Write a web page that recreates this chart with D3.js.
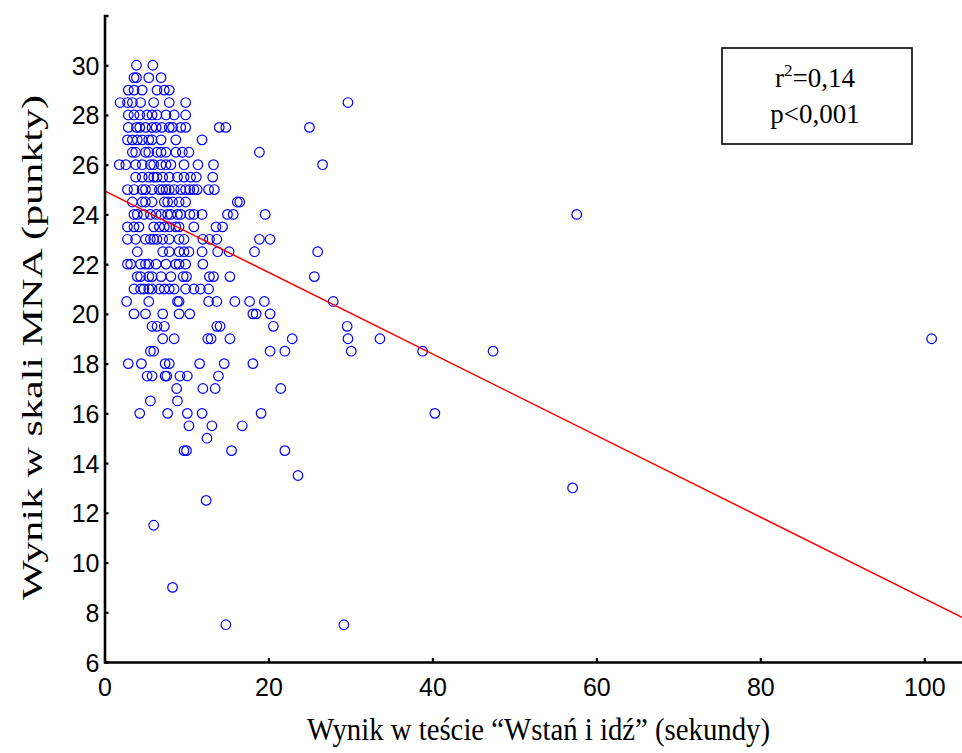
<!DOCTYPE html>
<html>
<head>
<meta charset="utf-8">
<script src="https://cdn.jsdelivr.net/npm/d3@7"></script>
<style>
  html, body { margin: 0; padding: 0; background: #fff; }
  svg { display: block; }
</style>
</head>
<body>
<svg id="chart" width="962" height="753"></svg>
<script>
// MNA score levels (points) and the "Wstań i idź" times (seconds) recorded at each level
const mnaScores = [30, 29.5, 29, 28.5, 28, 27.5, 27, 26.5, 26, 25.5, 25, 24.5, 24, 23.5, 23, 22.5, 22, 21.5, 21, 20.5, 20, 19.5, 19, 18.5, 18, 17.5, 17, 16.5, 16, 15.5, 15, 14.5, 13.5, 13, 12.5, 11.5, 9, 7.5];
const tugTimesByScore = [
  [3.9, 5.9],
  [3.6, 3.9, 5.4, 6.9],
  [2.9, 3.6, 4.6, 6.4, 7.3, 7.9],
  [1.9, 2.8, 3.4, 4.4, 6.0, 7.9, 9.9, 29.7],
  [2.9, 3.6, 4.3, 5.2, 5.8, 6.4, 7.5, 8.5, 9.9],
  [2.9, 3.9, 4.3, 5.0, 5.8, 6.3, 7.0, 7.9, 8.3, 9.3, 9.9, 14.0, 14.8, 25.0],
  [2.8, 3.4, 4.0, 4.6, 5.4, 5.8, 6.9, 8.7, 11.9],
  [3.4, 3.8, 5.0, 5.4, 6.4, 6.9, 7.5, 8.7, 9.5, 10.3, 18.9],
  [1.8, 2.6, 3.8, 4.6, 5.6, 6.0, 6.9, 7.5, 8.1, 9.7, 11.4, 13.3, 26.6],
  [3.8, 4.6, 5.4, 6.0, 6.4, 7.1, 7.9, 8.9, 9.7, 10.5, 11.2, 13.2],
  [2.8, 3.6, 4.6, 5.0, 5.8, 6.7, 7.1, 7.5, 7.9, 8.5, 9.3, 9.9, 10.4, 10.9, 11.3, 12.7, 13.4],
  [3.4, 4.6, 5.0, 5.8, 7.3, 7.7, 8.3, 9.1, 9.9, 16.2, 16.5],
  [3.6, 4.0, 4.8, 5.6, 6.3, 6.9, 7.7, 8.1, 8.9, 9.3, 10.4, 10.9, 11.9, 15.0, 15.7, 19.6, 57.6],
  [2.8, 3.6, 4.2, 6.0, 6.7, 7.3, 7.9, 8.7, 9.1, 10.9, 13.6, 14.4],
  [2.8, 3.8, 5.0, 5.6, 6.0, 6.4, 7.1, 7.9, 9.1, 9.7, 12.0, 12.8, 13.7, 18.9, 20.2],
  [4.0, 7.1, 7.9, 9.1, 9.7, 10.3, 11.9, 13.8, 15.2, 18.3, 26.0],
  [2.8, 3.2, 4.4, 5.0, 5.4, 6.3, 7.5, 8.7, 9.1, 9.9, 12.0],
  [4.0, 4.4, 5.4, 5.8, 6.9, 8.1, 9.6, 10.0, 12.8, 13.3, 15.3, 25.6],
  [3.6, 4.4, 4.8, 5.4, 5.8, 6.7, 7.3, 7.9, 8.5, 9.9, 10.9, 11.7, 12.7],
  [2.7, 5.4, 8.9, 9.1, 12.7, 13.7, 15.9, 17.7, 19.5, 27.9],
  [3.6, 5.0, 7.1, 9.1, 10.4, 18.1, 18.5, 20.2],
  [5.8, 6.4, 7.3, 13.7, 14.1, 20.6, 29.6],
  [7.1, 8.5, 12.6, 13.0, 15.3, 22.9, 29.7, 33.6, 100.9],
  [5.6, 6.0, 20.2, 22.0, 30.1, 38.8, 47.4],
  [2.9, 4.5, 7.4, 7.9, 11.6, 14.6, 18.1],
  [5.2, 5.8, 7.4, 7.6, 9.2, 10.1, 13.9],
  [8.8, 12.0, 13.5, 21.5],
  [5.6, 8.9],
  [4.3, 7.7, 10.1, 11.9, 19.1, 40.3],
  [10.3, 13.1, 16.8],
  [12.5],
  [9.7, 10.0, 15.5, 22.0],
  [23.6],
  [57.1],
  [12.4],
  [6.0],
  [8.3],
  [14.8, 29.2]
];

// Fitted regression line: MNA = intercept + slope * time
const fitIntercept = 24.95;
const fitSlope = -0.164;

const xTicks = [0, 20, 40, 60, 80, 100];
const yTicks = [6, 8, 10, 12, 14, 16, 18, 20, 22, 24, 26, 28, 30];
const xDomain = [0, 104.6];
const yDomain = [6, 32];

const statLines = ["r", "p<0,001"];
const xTitle = "Wynik w teście “Wstań i idź” (sekundy)";
const yTitle = "Wynik w skali MNA (punkty)";

const points = [];
mnaScores.forEach((s, i) => tugTimesByScore[i].forEach(t => points.push({ t, s })));

const svg = d3.select("#chart");
const plotLeft = 104.5, plotRight = 962, plotTop = 15.5, plotBottom = 662;

const x = d3.scaleLinear().domain(xDomain).range([plotLeft, plotRight]);
const y = d3.scaleLinear().domain(yDomain).range([plotBottom, plotTop]);

// scatter points
svg.append("g")
  .selectAll("circle")
  .data(points)
  .join("circle")
  .attr("cx", d => x(d.t))
  .attr("cy", d => y(d.s))
  .attr("r", 4.8)
  .attr("fill", "none")
  .attr("stroke", "#0000ff")
  .attr("stroke-width", 1.2);

// regression line
const line = d3.line().x(d => x(d)).y(d => y(fitIntercept + fitSlope * d));
svg.append("path")
  .attr("d", line(xDomain))
  .attr("fill", "none")
  .attr("stroke", "#ff0000")
  .attr("stroke-width", 1.5);

// axes (ticks pointing inward)
const xAxis = d3.axisBottom(x).tickValues(xTicks).tickFormat(d3.format("d"))
  .tickSizeInner(-4).tickSizeOuter(0).tickPadding(16);
const yAxis = d3.axisLeft(y).tickValues(yTicks).tickFormat(d3.format("d"))
  .tickSizeInner(-4).tickSizeOuter(-4).tickPadding(5);

const gx = svg.append("g").attr("transform", `translate(0,${plotBottom})`).call(xAxis);
const gy = svg.append("g").attr("transform", `translate(${plotLeft},0)`).call(yAxis);

[gx, gy].forEach(g => {
  g.select(".domain").attr("stroke", "#000").attr("stroke-width", 2.6);
  g.selectAll(".tick line").attr("stroke", "#000").attr("stroke-width", 2.2);
  g.selectAll(".tick text")
    .attr("fill", "#000")
    .style("font-family", "'Liberation Sans', Arial, sans-serif")
    .style("font-size", "25px");
});
gy.selectAll(".tick text").attr("dy", "0.36em");

// axis titles
svg.append("text")
  .attr("x", 538.5).attr("y", 740)
  .attr("text-anchor", "middle")
  .attr("textLength", 463).attr("lengthAdjust", "spacingAndGlyphs")
  .style("font-family", "'Liberation Serif', 'Times New Roman', serif")
  .style("font-size", "31px")
  .text(xTitle);

svg.append("text")
  .attr("transform", "translate(42,347.5) rotate(-90)")
  .attr("text-anchor", "middle")
  .attr("textLength", 505).attr("lengthAdjust", "spacingAndGlyphs")
  .style("font-family", "'Liberation Serif', 'Times New Roman', serif")
  .style("font-size", "30px")
  .text(yTitle);

// statistics box
const box = svg.append("g");
box.append("rect")
  .attr("x", 722).attr("y", 48).attr("width", 190).attr("height", 96)
  .attr("fill", "#fff").attr("stroke", "#000").attr("stroke-width", 1.6);

const r2 = box.append("text")
  .attr("x", 815).attr("y", 87)
  .attr("text-anchor", "middle")
  .style("font-family", "'Liberation Serif', 'Times New Roman', serif")
  .style("font-size", "27px");
r2.append("tspan").text(statLines[0]);
r2.append("tspan").attr("dy", -11).style("font-size", "17px").text("2");
r2.append("tspan").attr("dy", 11).text("=0,14");

box.append("text")
  .attr("x", 815).attr("y", 123)
  .attr("text-anchor", "middle")
  .style("font-family", "'Liberation Serif', 'Times New Roman', serif")
  .style("font-size", "27px")
  .text(statLines[1]);
</script>
</body>
</html>
